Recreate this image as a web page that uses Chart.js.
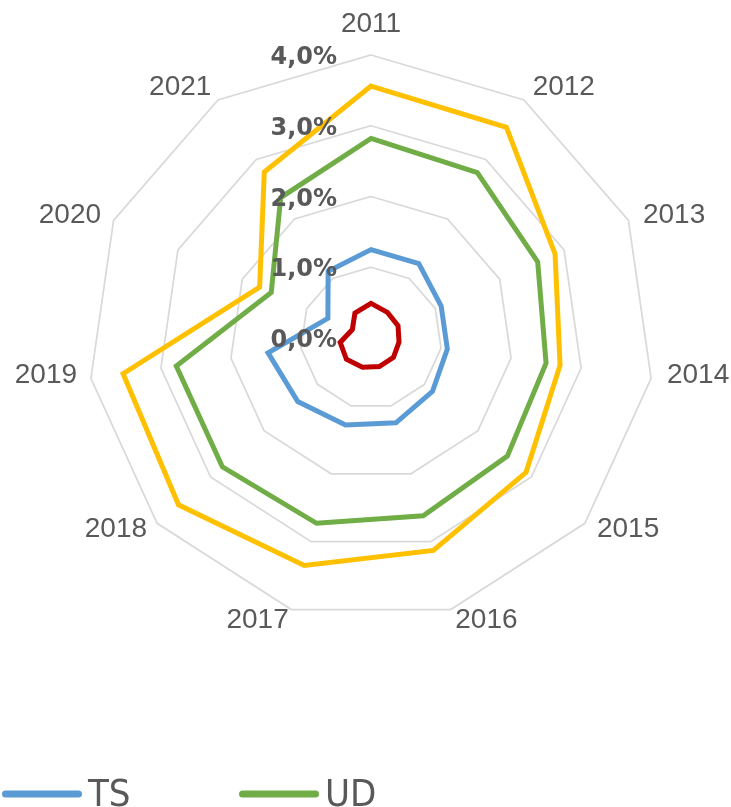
<!DOCTYPE html>
<html lang="en">
<head>
    <meta charset="UTF-8">
    <title>Radar</title>
    <style>
        body { margin: 0; background: #fff; }
        .chart-radar { width: 731px; height: 807px; }
    </style>
    <script src="https://cdn.jsdelivr.net/npm/chart.js"></script>
</head>
<body>
    <div class="chart-radar">
        <canvas id="myRadarChart"></canvas>
    </div>

    <script>
        // Data (percent)
        const years = ['2011', '2012', '2013', '2014', '2015', '2016', '2017', '2018', '2019', '2020', '2021'];
        const tsValues = [1.25, 1.25, 1.09, 1.09, 1.15, 1.25, 1.28, 1.37, 1.47, 0.67, 1.12];
        const udValues = [2.82, 2.78, 2.59, 2.50, 2.55, 2.62, 2.73, 2.78, 2.78, 1.55, 2.36];
        const series3Values = [3.56, 3.54, 2.86, 2.70, 2.90, 3.13, 3.35, 3.60, 3.54, 1.73, 2.79];
        const series4Values = [0.49, 0.43, 0.42, 0.40, 0.42, 0.42, 0.43, 0.46, 0.44, 0.29, 0.42];
        const tickValues = [0, 1, 2, 3, 4];
        const legendSeries = ['TS', 'UD'];

        const fmtPct = v => v.toFixed(1).replace('.', ',') + '%';

        // Year labels placed Excel-style around the outer ring
        const pointLabelPlugin = {
            id: 'pointLabelPlugin',
            afterDraw(chart) {
                const scale = chart.scales.r;
                const ctx = chart.ctx;
                ctx.save();
                ctx.font = '28px "Liberation Sans", Arial, sans-serif';
                ctx.fillStyle = '#595959';
                chart.data.labels.forEach((label, i) => {
                    const p = scale.getPointPosition(i, scale.drawingArea + 16);
                    const dx = p.x - scale.xCenter;
                    const dy = p.y - scale.yCenter;
                    if (i === 0) {
                        ctx.textAlign = 'center';
                        ctx.textBaseline = 'alphabetic';
                        ctx.fillText(label, p.x, p.y - 7);
                        return;
                    }
                    ctx.textAlign = dx > 0 ? 'left' : 'right';
                    ctx.textBaseline = 'middle';
                    ctx.fillText(label, p.x + (dx > 0 ? 0 : 2), p.y + (dy > 0 ? -5 : 1));
                });
                ctx.restore();
            }
        };

        // Tick labels sit left of the vertical axis and on top of the lines
        const tickLabelPlugin = {
            id: 'tickLabelPlugin',
            afterDatasetsDraw(chart) {
                const scale = chart.scales.r;
                const ctx = chart.ctx;
                ctx.save();
                ctx.font = 'bold 24px "DejaVu Sans"';
                ctx.fillStyle = '#595959';
                ctx.textAlign = 'right';
                ctx.textBaseline = 'middle';
                scale.ticks.forEach(t => {
                    const y = scale.yCenter - scale.getDistanceFromCenterForValue(t.value);
                    ctx.fillText(fmtPct(t.value), scale.xCenter - 34, y + 3);
                });
                ctx.restore();
            }
        };

        // Simple legend at the bottom (only TS and UD are shown)
        const bottomLegendPlugin = {
            id: 'bottomLegendPlugin',
            afterDraw(chart) {
                const ctx = chart.ctx;
                const y = 794;
                ctx.save();
                ctx.font = '38px "Liberation Sans Narrow", "DejaVu Sans Condensed", sans-serif';
                ctx.textBaseline = 'alphabetic';
                ctx.textAlign = 'left';
                legendSeries.forEach((name, i) => {
                    const ds = chart.data.datasets.find(d => d.label === name);
                    const x0 = 2 + i * 237;
                    ctx.strokeStyle = ds.borderColor;
                    ctx.lineWidth = 7;
                    ctx.lineCap = 'round';
                    ctx.beginPath();
                    ctx.moveTo(x0 + 3.5, y);
                    ctx.lineTo(x0 + 76.5, y);
                    ctx.stroke();
                    ctx.fillStyle = '#595959';
                    ctx.fillText(name, x0 + 86, 806);
                });
                ctx.restore();
            }
        };

        const lineStyle = {
            fill: false,
            borderWidth: 5,
            pointRadius: 0,
            pointHoverRadius: 0,
            tension: 0,
            borderJoinStyle: 'miter'
        };

        var data = {
            labels: years,
            datasets: [
                Object.assign({ label: 'Series4', data: series4Values, borderColor: '#c00000' }, lineStyle),
                Object.assign({ label: 'TS', data: tsValues, borderColor: '#5b9bd5' }, lineStyle),
                Object.assign({ label: 'UD', data: udValues, borderColor: '#70ad47' }, lineStyle),
                Object.assign({ label: 'Series3', data: series3Values, borderColor: '#ffc000' }, lineStyle)
            ]
        };

        var options = {
            responsive: true,
            maintainAspectRatio: false,
            animation: false,
            layout: {
                padding: { top: 55, bottom: 185, left: 12, right: 0 }
            },
            plugins: {
                legend: { display: false },
                tooltip: { enabled: false }
            },
            scales: {
                r: {
                    min: tickValues[0],
                    max: tickValues[tickValues.length - 1],
                    ticks: { stepSize: 1, display: false },
                    angleLines: { display: false },
                    grid: { color: '#d9d9d9', lineWidth: 1.75 },
                    pointLabels: { display: false }
                }
            }
        };

        var ctx = document.getElementById('myRadarChart').getContext('2d');
        new Chart(ctx, {
            type: 'radar',
            data: data,
            options: options,
            plugins: [pointLabelPlugin, tickLabelPlugin, bottomLegendPlugin]
        });
    </script>
</body>
</html>
